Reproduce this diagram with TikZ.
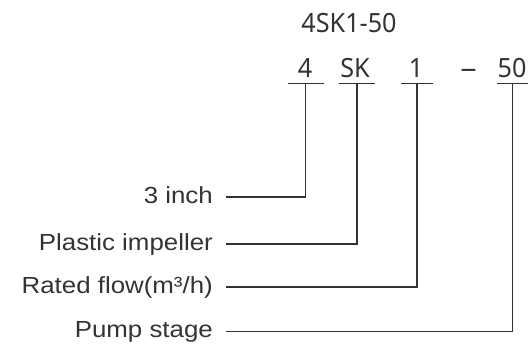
\documentclass[tikz,border=0pt]{standalone}
\usepackage{fontspec}
\newfontfamily\lblfont{Liberation Sans}[FakeStretch=1.11]
\newfontfamily\codefont{Noto Sans}[FakeStretch=0.95]
\usetikzlibrary{calc}
\definecolor{ink}{HTML}{333333}

\begin{document}
\begin{tikzpicture}[
  x=1pt, y=-1pt,
  code/.style={anchor=base, inner sep=0pt, text=ink,
               font=\codefont\fontsize{26.5}{30}\selectfont},
  lbl/.style={anchor=base east, inner sep=0pt, text=ink,
              font=\lblfont\fontsize{23.3}{28}\selectfont},
  ln/.style={draw=ink, line width=1.5pt},
]
\useasboundingbox (0,0) rectangle (528,346);

% ---- model code ----
\node[code] (title) at (349,32.5) {4SK1-50};
\node[code] (k4)  at (305,77)   {4};
\node[code] (ksk) at (355,77)   {SK};
\node[code] (k1)  at (416,77)   {1};
\node[code] (kd)  at (468.5,77) {\scalebox{1.3}[1]{–}};
\node[code] (k50) at (512,77)   {50};

% ---- underlines ----
\foreach \n/\x/\w in {4/305.5/18, sk/357/18, 1/417/16, 50/512.5/16}{
  \coordinate (u\n) at (\x,83.5);
  \draw[ln] ($(u\n)+(-\w,0)$) -- ($(u\n)+(\w,0)$);
}

% ---- meanings ----
\node[lbl] (l4)  at (213,203)   {3 inch};
\node[lbl] (lsk) at (213,250)   {Plastic impeller};
\node[lbl] (l1)  at (213,293)   {Rated flow(m³/h)};
\node[lbl] (l50) at (213,337.5) {Pump stage};

% ---- leaders ----
\foreach \n in {4,sk,1,50}
  \draw[ln] ([xshift=13pt,yshift=6pt]l\n.base east) -| (u\n);
\end{tikzpicture}
\end{document}
